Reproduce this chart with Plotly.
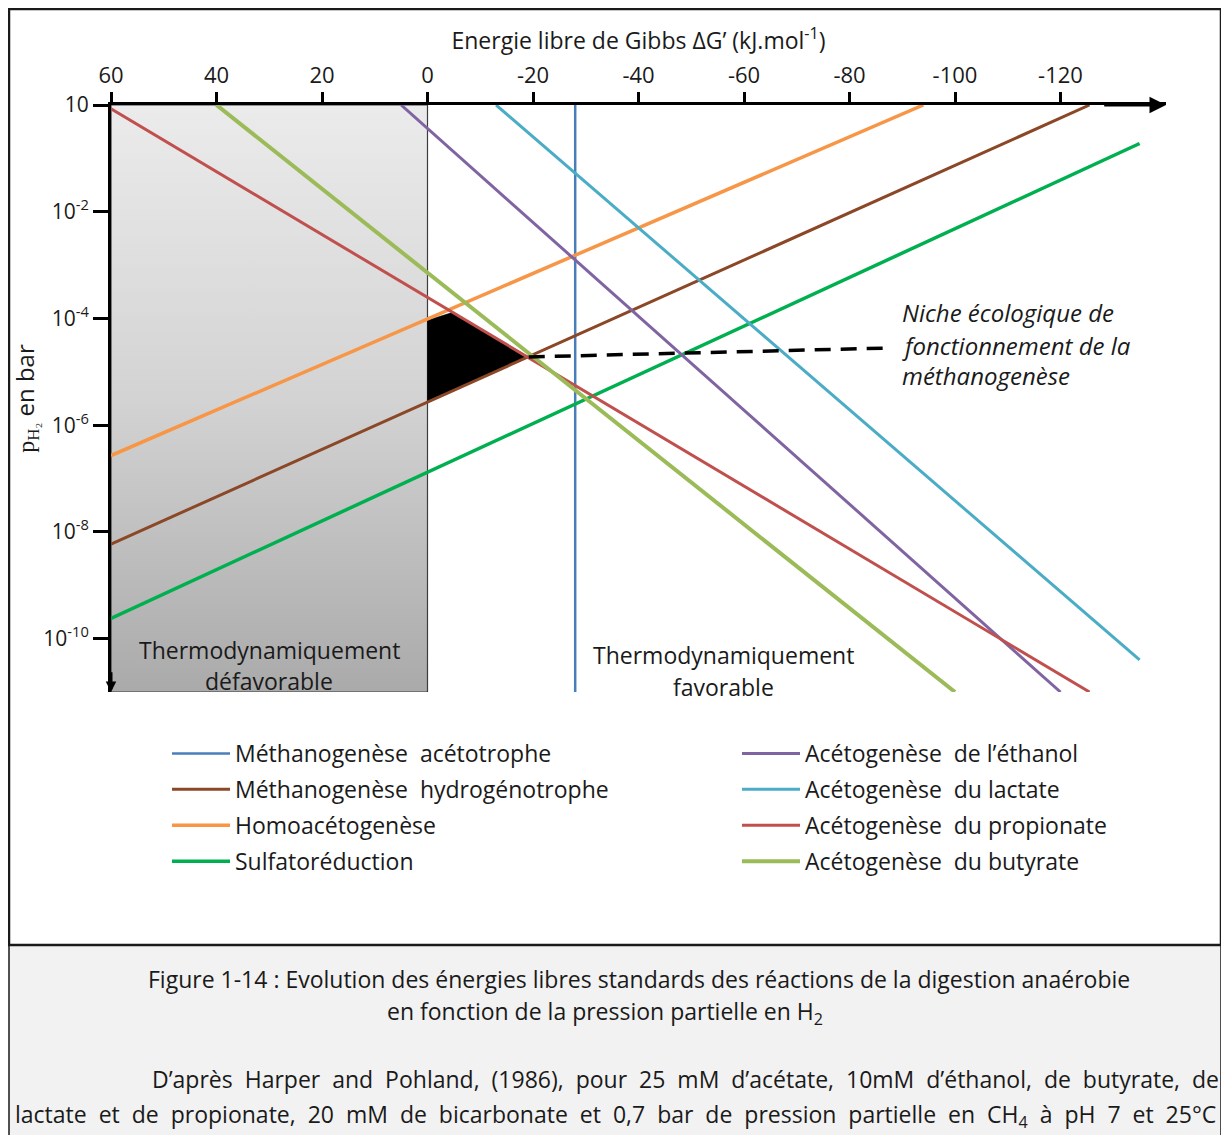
import plotly.graph_objects as go

# ---------------- data ----------------
dg_ticks = [60, 40, 20, 0, -20, -40, -60, -80, -100, -120]
dg_tick_labels = ["60", "40", "20", "0", "-20", "-40", "-60", "-80", "-100", "-120"]
ph2_ticks = [1, 1e-2, 1e-4, 1e-6, 1e-8, 1e-10]
ph2_tick_labels = ["10", "10<sup>-2</sup>", "10<sup>-4</sup>", "10<sup>-6</sup>",
                   "10<sup>-8</sup>", "10<sup>-10</sup>"]

reactions = ["Méthanogenèse\u00a0 acétotrophe", "Méthanogenèse\u00a0 hydrogénotrophe",
             "Homoacétogenèse", "Sulfatoréduction",
             "Acétogenèse\u00a0 de l’éthanol", "Acétogenèse\u00a0 du lactate",
             "Acétogenèse\u00a0 du propionate", "Acétogenèse\u00a0 du butyrate"]
# each reaction line: start / end (ΔG' in kJ/mol, pH2 in bar)
dg_start = [-28, 60, 60, 60, 5, -13, 60, 40]
dg_end = [-28, -125.5, -94, -135, -120, -135, -125.5, -100]
ph2_start = [1, 5.9e-9, 2.7e-7, 2.4e-10, 1, 1, 0.85, 1]
ph2_end = [1e-11, 1, 1, 0.19, 1e-11, 4e-11, 1e-11, 1e-11]

# unfavourable zone (ΔG' > 0)
zone_dg = [60, 0]
zone_ph2 = [1, 1e-11]

# ecological niche of methanogenesis (black triangle)
niche_dg = [0, -4.8, -19.2, 0]
niche_ph2 = [9.3e-5, 1.3e-4, 1.9e-5, 2.7e-6]
pointer_dg = [-19.2, -88]
pointer_ph2 = [1.9e-5, 2.8e-5]

# ---------------- styles ----------------
colors = ["#4a7ebb", "#8b4726", "#f79646", "#00b050",
          "#8064a2", "#4bacc6", "#c0504d", "#9bbb59"]
widths = [2.5, 3, 3.5, 3.5, 3, 3, 3, 4]
legend_of = ["legend"] * 4 + ["legend2"] * 4
FONT = "Open Sans"
TXT = "#1a1a1a"

W, H = 1221, 1127
ML, MR, MT, MB = 103, 63, 97, 443
PW, PH = W - ML - MR, H - MT - MB


def pxp(px):  # page pixel -> paper x
    return (px - 8 - ML) / PW


def pyp(py):  # page pixel -> paper y
    return (H - MB - (py - 8)) / PH


fig = go.Figure()

# unfavourable zone with vertical gradient
fig.add_trace(go.Scatter(
    x=[zone_dg[0], zone_dg[1], zone_dg[1], zone_dg[0], zone_dg[0]],
    y=[zone_ph2[0], zone_ph2[0], zone_ph2[1], zone_ph2[1], zone_ph2[0]],
    mode="lines", fill="toself",
    fillgradient=dict(type="vertical",
                      colorscale=[[0, "#aaaaaa"], [0.5, "#d3d3d3"], [1, "#ebebeb"]]),
    line=dict(color="#3c3c3c", width=1.2),
    showlegend=False, hoverinfo="skip"))

# niche triangle
fig.add_trace(go.Scatter(
    x=niche_dg + [niche_dg[0]], y=niche_ph2 + [niche_ph2[0]],
    mode="lines", fill="toself", fillcolor="black",
    line=dict(color="black", width=0.5), showlegend=False, hoverinfo="skip"))

# reaction lines
for i, name in enumerate(reactions):
    fig.add_trace(go.Scatter(
        x=[dg_start[i], dg_end[i]], y=[ph2_start[i], ph2_end[i]],
        mode="lines", name=name, legend=legend_of[i], legendgroup=name,
        line=dict(color=colors[i], width=widths[i])))

# dashed pointer to the niche label
fig.add_trace(go.Scatter(
    x=pointer_dg, y=pointer_ph2, mode="lines",
    line=dict(color="black", width=3.5, dash="16px,10px"),
    showlegend=False, hoverinfo="skip"))

annotations = []
# axis arrows
annotations.append(dict(x=-140, y=0, ax=-128, ay=0, xref="x", yref="y", axref="x", ayref="y",
                        text="", showarrow=True, arrowhead=2, arrowsize=1.1, arrowwidth=3,
                        arrowcolor="black"))
annotations.append(dict(x=60, y=-11, ax=60, ay=-10.6, xref="x", yref="y", axref="x", ayref="y",
                        text="", showarrow=True, arrowhead=2, arrowsize=0.7, arrowwidth=3,
                        arrowcolor="black"))
# zone labels
for txt, xv, yv in [("Thermodynamiquement", 30, -10.21), ("défavorable", 30, -10.79),
                    ("Thermodynamiquement", -56.2, -10.31), ("favorable", -56.2, -10.91)]:
    annotations.append(dict(x=xv, y=yv, xref="x", yref="y", text=txt, showarrow=False,
                            xanchor="center", yanchor="middle",
                            font=dict(family=FONT, size=23, color=TXT)))
# niche label
for txt, yv in [("Niche écologique de", -3.88), ("fonctionnement de la", -4.50),
                ("méthanogenèse", -5.06)]:
    annotations.append(dict(x=-89.6, y=yv, xref="x", yref="y", text="<i>" + txt + "</i>",
                            showarrow=False, xanchor="left", yanchor="middle",
                            font=dict(family=FONT, size=24, color=TXT)))

# caption
cap_font = dict(family=FONT, size=23, color=TXT)
annotations += [
    dict(x=pxp(146), y=pyp(979), xref="paper", yref="paper", xanchor="left", yanchor="middle",
         showarrow=False, font=cap_font,
         text="Figure 1-14 : Evolution des énergies libres standards des réactions de la digestion anaérobie"),
    dict(x=pxp(605), y=pyp(1013), xref="paper", yref="paper", xanchor="center", yanchor="middle",
         showarrow=False, font=cap_font,
         text="en fonction de la pression partielle en H<sub>2</sub>"),
    dict(x=pxp(1221), y=pyp(1079), xref="paper", yref="paper", xanchor="right", yanchor="middle",
         showarrow=False, font=cap_font,
         text='<span style="word-spacing:6px">D’après Harper and Pohland, (1986), pour 25 mM d’acétate, 10mM d’éthanol, de butyrate, de</span>'),
    dict(x=pxp(615), y=pyp(1115), xref="paper", yref="paper", xanchor="center", yanchor="middle",
         showarrow=False, font=cap_font,
         text='<span style="word-spacing:6px">lactate et de propionate, 20 mM de bicarbonate et 0,7 bar de pression partielle en CH<sub>4</sub> à pH 7 et 25°C</span>'),
]

shapes = [
    # caption box
    dict(type="rect", xref="paper", yref="paper", x0=pxp(9), x1=pxp(1221), y0=pyp(945), y1=pyp(1140),
         fillcolor="#f2f2f2", line=dict(color=TXT, width=1.5), layer="below"),
    # outer frame of the chart
    dict(type="rect", xref="paper", yref="paper", x0=pxp(9), x1=pxp(1221), y0=pyp(9), y1=pyp(945),
         fillcolor="rgba(0,0,0,0)", line=dict(color=TXT, width=2.5), layer="below"),
]

leg_common = dict(xanchor="left", yanchor="top", font=dict(family=FONT, size=23, color=TXT),
                  traceorder="grouped", tracegroupgap=3, bgcolor="rgba(0,0,0,0)", itemwidth=58)

fig.update_layout(
    width=W, height=H,
    margin=dict(l=ML, r=MR, t=MT, b=MB, autoexpand=False),
    paper_bgcolor="white", plot_bgcolor="white",
    font=dict(family=FONT, size=20, color=TXT),
    xaxis=dict(range=[60, -140], side="top", showline=True, linecolor="black", linewidth=3,
               ticks="outside", ticklen=10, tickwidth=3, tickcolor="black",
               tickvals=dg_ticks, ticktext=dg_tick_labels,
               tickfont=dict(family=FONT, size=22, color=TXT),
               showgrid=False, zeroline=False,
               title=dict(text="Energie libre de Gibbs ΔG’ (kJ.mol<sup>-1</sup>)",
                          font=dict(family=FONT, size=23, color=TXT), standoff=4)),
    yaxis=dict(type="log", range=[-11, 0], showline=True, linecolor="black", linewidth=3,
               ticks="outside", ticklen=15, tickwidth=3, tickcolor="black",
               tickvals=ph2_ticks, ticktext=ph2_tick_labels,
               tickfont=dict(family=FONT, size=21, color=TXT),
               showgrid=False, zeroline=False,
               title=dict(text='<span style="font-family:Liberation Serif">p<sub>H₂</sub></span> en bar',
                          font=dict(family=FONT, size=24, color=TXT), standoff=4)),
    legend=dict(x=pxp(167), y=pyp(732), **leg_common),
    legend2=dict(x=pxp(737), y=pyp(732), **leg_common),
    annotations=annotations,
    shapes=shapes,
)

fig.write_html("out.html")
